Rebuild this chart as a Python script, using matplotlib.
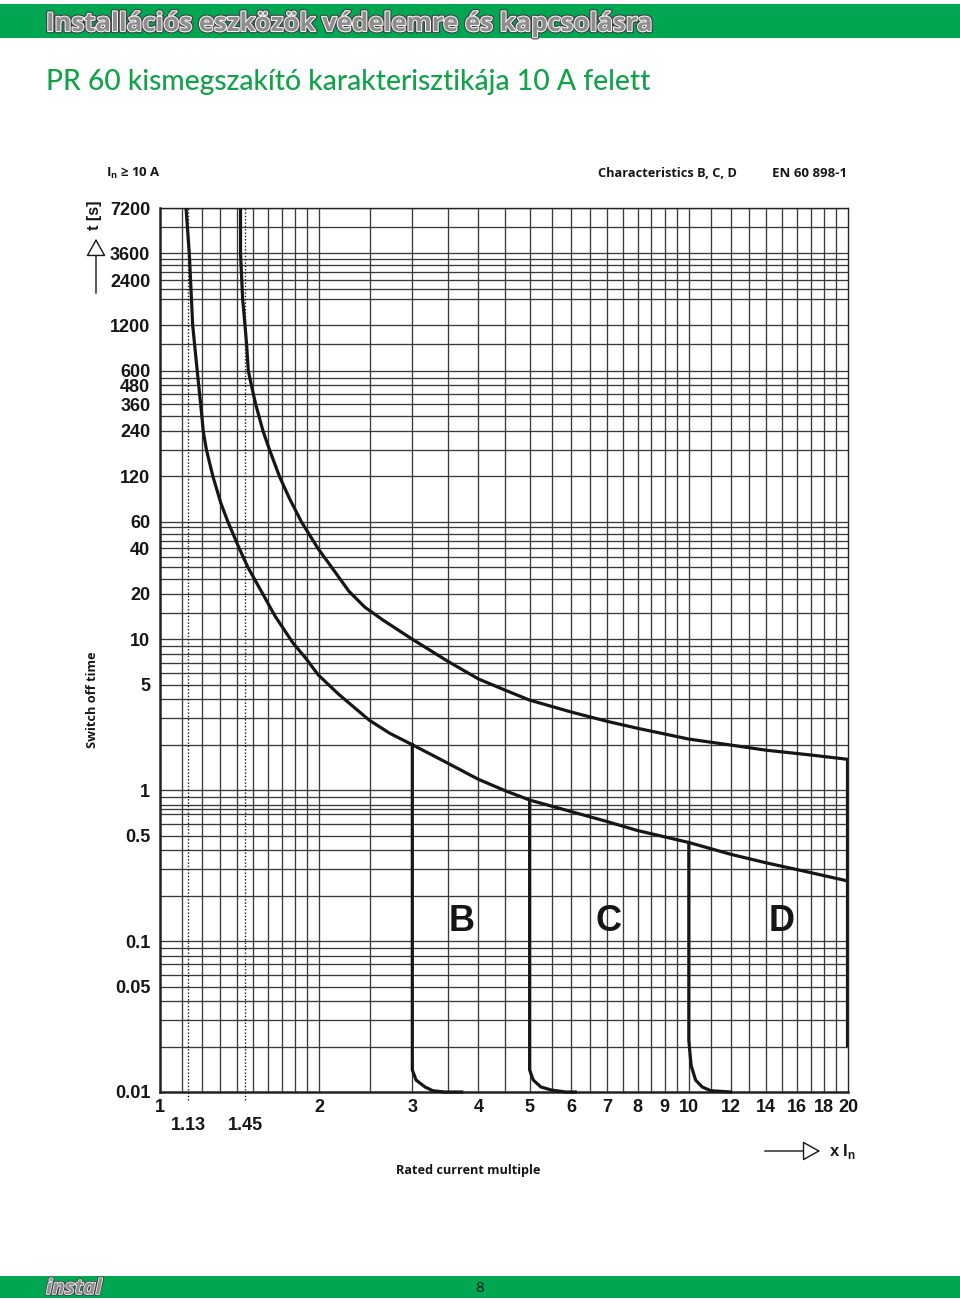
import matplotlib
matplotlib.use('Agg')
import matplotlib.pyplot as plt
from matplotlib import font_manager, patheffects as pe
from matplotlib.patches import Rectangle, FancyArrowPatch
from matplotlib.ticker import NullLocator

available = {f.name for f in font_manager.fontManager.ttflist}
def pick(*names):
    for n in names:
        if n in available:
            return n
    return 'DejaVu Sans'

SANS = pick('Liberation Sans', 'Arial')
HUM = pick('Open Sans', 'Noto Sans', 'Lato')
TFONT = pick('Lato', 'Open Sans', 'Noto Sans')

# ---------------- data ----------------
lower_x = [1.12, 1.136, 1.153, 1.176, 1.200, 1.207, 1.224, 1.259, 1.303, 1.344, 1.412, 1.466, 1.564, 1.651,
           1.786, 1.88, 1.992, 2.18, 2.49, 2.72, 3.0, 3.5, 4.0, 4.5, 5.0, 6.0, 7.0, 8.0, 10.0, 12.0, 14.0, 16.0, 20.0]
lower_t = [7200, 3600, 1200, 600, 300, 240, 180, 120, 80, 60, 40, 30, 20, 14.2,
           9.4, 7.6, 5.8, 4.3, 2.9, 2.38, 2.0, 1.51, 1.18, 0.99, 0.86, 0.72, 0.62, 0.54, 0.45, 0.376, 0.33, 0.298, 0.25]

upper_x = [1.42, 1.42, 1.433, 1.448, 1.458, 1.469, 1.489, 1.517, 1.566, 1.611, 1.682, 1.759, 1.851, 1.989,
           2.132, 2.276, 2.44, 2.64, 3.0, 3.5, 4.0, 4.5, 5.0, 6.0, 7.0, 8.0, 10.0, 12.0, 14.0, 17.0, 20.0]
upper_t = [7200, 3600, 1800, 1200, 900, 600, 480, 360, 240, 180, 120, 85, 60, 40,
           28.6, 20.8, 16.3, 13.4, 10, 7.15, 5.46, 4.59, 3.95, 3.29, 2.86, 2.57, 2.18, 1.99, 1.84, 1.71, 1.60]

b_trip_x = [3.0, 3.0, 3.0, 3.05, 3.17, 3.28, 3.45, 3.72]
b_trip_t = [2.0, 0.02, 0.014, 0.012, 0.0108, 0.0102, 0.01, 0.01]
c_trip_x = [5.0, 5.0, 5.0, 5.08, 5.25, 5.5, 5.85, 6.1]
c_trip_t = [0.86, 0.02, 0.014, 0.012, 0.0108, 0.0103, 0.01, 0.01]
d_trip_x = [10.0, 10.0, 10.1, 10.3, 10.6, 11.0, 12.0]
d_trip_t = [0.45, 0.022, 0.015, 0.012, 0.0108, 0.0102, 0.01]
d_limit_x = [20.0, 20.0]
d_limit_t = [1.60, 0.02]

grid_x = [1.1, 1.2, 1.3, 1.4, 1.5, 1.6, 1.7, 1.8, 1.9, 2, 2.5, 3, 3.5, 4, 4.5, 5, 5.5, 6, 6.5,
          7, 7.5, 8, 8.5, 9, 9.5, 10, 11, 12, 13, 14, 15, 16, 17, 18, 19]
grid_t = [0.02, 0.03, 0.04, 0.05, 0.06, 0.07, 0.08, 0.09, 0.1, 0.2, 0.3, 0.4, 0.5, 0.6, 0.7, 0.75,
          0.8, 0.9, 1, 2, 3, 4, 5, 6, 7, 8, 9, 10, 15, 20, 25, 30, 35, 40, 45, 50, 55, 60, 120, 180,
          240, 300, 360, 420, 480, 540, 600, 900, 1200, 1800, 2100, 2400, 2700, 3000, 3300, 3600,
          5400, 7200]

xtick_vals = [1, 2, 3, 4, 5, 6, 7, 8, 9, 10, 12, 14, 16, 18, 20]
xtick_labels = ['1', '2', '3', '4', '5', '6', '7', '8', '9', '10', '12', '14', '16', '18', '20']
ytick_vals = [7200, 3600, 2400, 1200, 600, 480, 360, 240, 120, 60, 40, 20, 10, 5, 1, 0.5, 0.1, 0.05, 0.01]
ytick_labels = ['7200', '3600', '2400', '1200', '600', '480', '360', '240', '120', '60', '40', '20',
                '10', '5', '1', '0.5', '0.1', '0.05', '0.01']
marks_x = [1.13, 1.45]
marks_labels = ['1.13', '1.45']
char_labels = ['B', 'C', 'D']
char_label_x = [3.72, 7.06, 15.0]
char_label_t = [0.134, 0.134, 0.134]

GREEN = '#00a651'
TITLE_GREEN = '#14a14b'
INK = '#161616'
GRID = '#3a3a3a'

W, H = 960, 1301
fig = plt.figure(figsize=(W / 100, H / 100), dpi=100)
def fx(px): return px / W
def fy(py): return 1 - py / H

# bands
fig.add_artist(Rectangle((0, fy(38)), 1, 34 / H, transform=fig.transFigure, color=GREEN, lw=0))
fig.add_artist(Rectangle((0, fy(1298)), 1, 22 / H, transform=fig.transFigure, color=GREEN, lw=0))

ax = fig.add_axes([fx(160), fy(1092), 688 / W, 884 / H])
ax.set_xscale('log')
ax.set_yscale('log')
ax.set_xlim(1, 20)
ax.set_ylim(0.01, 7200)

for gx in grid_x:
    ax.axvline(gx, color=GRID, lw=0.95, zorder=1)
for gt in grid_t:
    ax.axhline(gt, color=GRID, lw=0.95, zorder=1)

for mx in marks_x:
    ax.axvline(mx, ymin=-0.009, ymax=1, color=INK, lw=1.0, ls=(0, (1, 1.4)), clip_on=False, zorder=2)

lw_c = 2.3
ax.plot(lower_x, lower_t, color=INK, lw=lw_c, zorder=4, solid_capstyle='round', solid_joinstyle='round')
ax.plot(upper_x, upper_t, color=INK, lw=lw_c, zorder=4, solid_capstyle='round', solid_joinstyle='round')
for xs, ts in [(b_trip_x, b_trip_t), (c_trip_x, c_trip_t), (d_trip_x, d_trip_t)]:
    ax.plot(xs, ts, color=INK, lw=lw_c, zorder=4, solid_joinstyle='round', clip_on=False)
ax.plot(d_limit_x, d_limit_t, color=INK, lw=3.0, zorder=4, solid_capstyle='butt')

for lab, lx, lt in zip(char_labels, char_label_x, char_label_t):
    ax.text(lx, lt, lab, ha='center', va='center', fontsize=26, fontweight='bold', family=SANS,
            color=INK, zorder=5)

for side, w in [('left', 1.8), ('bottom', 1.8), ('top', 1.0), ('right', 1.0)]:
    ax.spines[side].set_linewidth(w)
    ax.spines[side].set_color('#222222')

ax.set_xticks(xtick_vals)
ax.set_xticklabels(xtick_labels)
ax.set_yticks(ytick_vals)
ax.set_yticklabels(ytick_labels)
ax.xaxis.set_minor_locator(NullLocator())
ax.yaxis.set_minor_locator(NullLocator())
ax.tick_params(axis='both', length=0)
ax.tick_params(axis='y', pad=7)
ax.tick_params(axis='x', pad=5)
for lbl in ax.get_xticklabels() + ax.get_yticklabels():
    lbl.set_fontfamily(SANS)
    lbl.set_fontweight('bold')
    lbl.set_fontsize(13)
    lbl.set_color(INK)

for mx, ml in zip(marks_x, marks_labels):
    ax.text(mx, -0.028, ml, transform=ax.get_xaxis_transform(), ha='center', va='top',
            fontsize=13, fontweight='bold', family=SANS, color=INK)

# ---------------- texts ----------------
fits = []
hdr = fig.text(fx(46), fy(31), 'Installációs eszközök védelemre és kapcsolásra', ha='left', va='baseline',
               fontsize=20, fontweight='bold', family=HUM, color='#8d8d8d',
               path_effects=[pe.Stroke(linewidth=3.2, foreground='#3f3f3f'),
                             pe.Stroke(linewidth=1.6, foreground='#f2f2f2'), pe.Normal()])
fits.append((hdr, 606, 'w'))
ttl = fig.text(fx(46), fy(90), 'PR 60 kismegszakító karakterisztikája 10 A felett', ha='left', va='baseline',
               fontsize=20, fontweight=500, family=TFONT, color=TITLE_GREEN)
fits.append((ttl, 604, 'w'))

fig.text(fx(106), fy(177), r'I$_\mathregular{n}$ ≥ 10 A', ha='left', va='baseline', fontsize=9.5,
         fontweight='bold', family=[HUM, 'DejaVu Sans'], color=INK)
t1 = fig.text(fx(598), fy(177), 'Characteristics B, C, D', ha='left', va='baseline', fontsize=10,
              fontweight='bold', family=HUM, color=INK)
fits.append((t1, 138, 'w'))
t2 = fig.text(fx(772), fy(177), 'EN 60 898-1', ha='left', va='baseline', fontsize=10,
              fontweight='bold', family=HUM, color=INK)
fits.append((t2, 75, 'w'))
t3 = fig.text(fx(468), fy(1174), 'Rated current multiple', ha='center', va='baseline', fontsize=10,
              fontweight='bold', family=HUM, color=INK)
fits.append((t3, 145, 'w'))
t4 = fig.text(fx(93), fy(700), 'Switch off time', ha='center', va='center', rotation=90, fontsize=10,
              fontweight='bold', family=HUM, color=INK)
fits.append((t4, 96, 'h'))

fig.text(fx(95), fy(215), 't [s]', ha='center', va='center', rotation=90, fontsize=11.5,
         fontweight='bold', family=SANS, color=INK)
fig.add_artist(FancyArrowPatch((fx(96), fy(296)), (fx(96), fy(236)),
               transform=fig.transFigure, arrowstyle='-|>,head_length=5,head_width=2.8',
               mutation_scale=2.2, fc='white', ec=INK, lw=1.0))
fig.add_artist(FancyArrowPatch((fx(762), fy(1151)), (fx(823), fy(1151)),
               transform=fig.transFigure, arrowstyle='-|>,head_length=5,head_width=2.8',
               mutation_scale=2.2, fc='white', ec=INK, lw=1.0))
fig.text(fx(829), fy(1156), r'x I$_\mathregular{n}$', ha='left', va='baseline', fontsize=12,
         fontweight='bold', family=SANS, color=INK)

fig.text(fx(46), fy(1294), 'instal', ha='left', va='baseline', fontsize=15, fontweight='bold',
         style='italic', family=HUM, color='#8d8d8d',
         path_effects=[pe.Stroke(linewidth=2.4, foreground='#3f3f3f'),
                       pe.Stroke(linewidth=1.2, foreground='#f2f2f2'), pe.Normal()])
fig.text(fx(480), fy(1292), '8', ha='center', va='baseline', fontsize=11, family=HUM, color='#1a1a1a')

fig.canvas.draw()
r = fig.canvas.get_renderer()
for t, target, mode in fits:
    bb = t.get_window_extent(r)
    cur = bb.width if mode == 'w' else bb.height
    t.set_fontsize(t.get_fontsize() * target / cur)

fig.savefig('out.png', dpi=100)
